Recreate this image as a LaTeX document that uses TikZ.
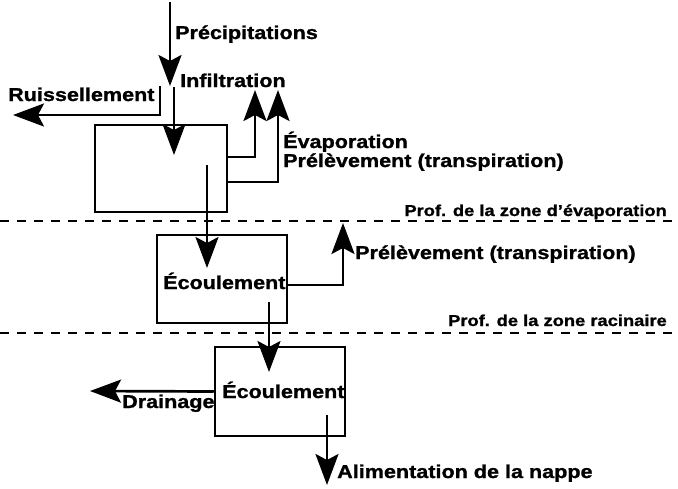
\documentclass[tikz,border=0pt]{standalone}
\usepackage{fontspec}
\setmainfont{Liberation Sans}[FakeStretch=1.16, BoldFeatures={FakeStretch=1.16, FakeBold=1.2}]
\usetikzlibrary{arrows.meta}
\newcommand{\mainlbl}{\fontsize{18.6pt}{20pt}\selectfont\bfseries}
\newcommand{\smalllbl}{\fontsize{15.8pt}{17pt}\selectfont\bfseries}
\tikzset{
  lbl/.style={anchor=base west, inner sep=0pt, font=\mainlbl},
  sml/.style={anchor=base east, inner sep=0pt, font=\smalllbl},
  boxnode/.style={draw, line width=2.5pt, inner sep=0pt},
  flow/.style={line width=2.7pt, line join=miter, -{Stealth[length=31pt,width=23pt,inset=6pt]}},
  sepline/.style={line width=2pt, dash pattern=on 9pt off 8pt}
}
\begin{document}
\begin{tikzpicture}[x=1pt,y=1pt]
\useasboundingbox (0,0) rectangle (678,-488);

% boxes
\node[boxnode, minimum width=132pt, minimum height=87pt] (b1) at (161,-168.5) {};
\node[boxnode, minimum width=130pt, minimum height=88pt] (b2) at (222,-279) {};
\node[boxnode, minimum width=130pt, minimum height=89pt] (b3) at (280,-391.5) {};

% separators
\coordinate (s1a) at (0,-221);
\coordinate (s1b) at (678,-221);
\coordinate (s2a) at (0,-333);
\coordinate (s2b) at (678,-333);
\draw[sepline] (s1a) -- (s1b);
\draw[sepline] (s2a) -- (s2b);

% labels
\node[lbl] (tprec) at (175,-39) {Précipitations};
\node[lbl] (tinf) at (180,-87) {Infiltration};
\node[lbl] (truis) at (8,-101) {Ruissellement};
\node[lbl] (tevap) at (283,-148) {Évaporation};
\node[lbl] (tprel1) at (283,-167) {Prélèvement (transpiration)};
\node[sml] (tprofe) at (667,-216) {Prof. de la zone d'évaporation};
\node[lbl] (tec1) at (163,-289) {Écoulement};
\node[lbl] (tprel2) at (355,-259) {Prélèvement (transpiration)};
\node[sml] (tprofr) at (667,-326) {Prof. de la zone racinaire};
\node[lbl] (tec2) at (222,-398) {Écoulement};
\node[lbl] (tdrain) at (122,-408) {Drainage};
\node[lbl] (talim) at (337,-478) {Alimentation de la nappe};

% connectors
\coordinate (ptop) at (170,-2);
\coordinate (ptip) at (170,-86);
\draw[flow] (ptop) -- (ptip);

\coordinate (rstart) at (160,-86);
\coordinate (rtip) at (13,-115);
\draw[flow] (rstart) |- (rtip);

\coordinate (istart) at (174,-87);
\coordinate (itip) at (174,-155);
\draw[flow] (istart) -- (itip);

\coordinate (evtip) at (255,-90);
\draw[flow] ([yshift=11.5pt]b1.east) -| (evtip);

\coordinate (p1tip) at (278,-90);
\draw[flow] ([yshift=-13.5pt]b1.east) -| (p1tip);

\coordinate (f1s) at (207,-165);
\coordinate (f1e) at (207,-268);
\draw[flow] (f1s) -- (f1e);

\coordinate (p2tip) at (343,-223);
\draw[flow] ([yshift=-6pt]b2.east) -| (p2tip);

\coordinate (f2s) at (269,-302);
\coordinate (f2e) at (269,-372);
\draw[flow] (f2s) -- (f2e);

\coordinate (dtip) at (90,-391);
\draw[flow] (b3.west) -- (dtip);

\coordinate (as) at (327,-415);
\coordinate (atip) at (327,-485);
\draw[flow] (as) -- (atip);
\end{tikzpicture}
\end{document}
